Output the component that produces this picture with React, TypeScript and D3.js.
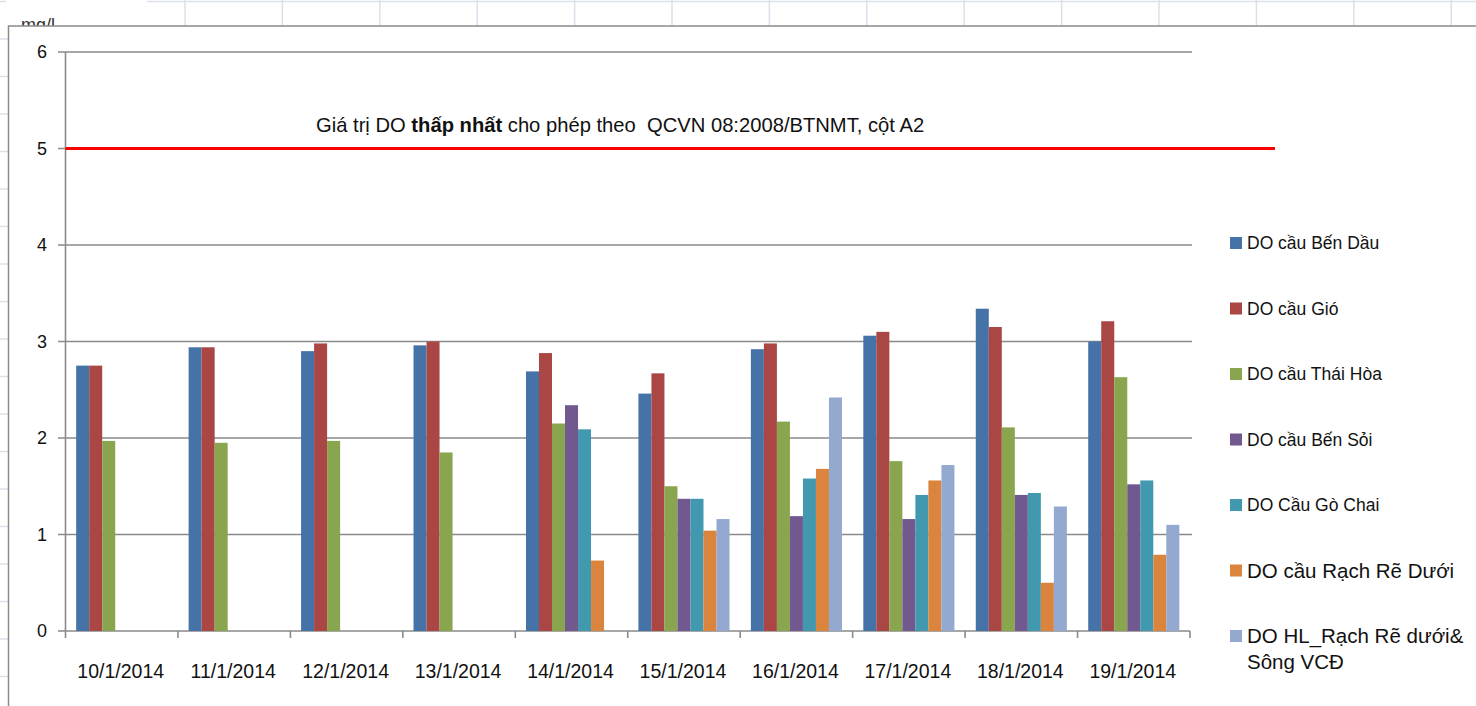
import * as d3 from "d3";

const dates = ["10/1/2014", "11/1/2014", "12/1/2014", "13/1/2014", "14/1/2014", "15/1/2014", "16/1/2014", "17/1/2014", "18/1/2014", "19/1/2014"];

const benDau = [2.75, 2.94, 2.9, 2.96, 2.69, 2.46, 2.92, 3.06, 3.34, 3.0];
const gio = [2.75, 2.94, 2.98, 3.0, 2.88, 2.67, 2.98, 3.1, 3.15, 3.21];
const thaiHoa = [1.97, 1.95, 1.97, 1.85, 2.15, 1.5, 2.17, 1.76, 2.11, 2.63];
const benSoi = [null, null, null, null, 2.34, 1.37, 1.19, 1.16, 1.41, 1.52];
const goChai = [null, null, null, null, 2.09, 1.37, 1.58, 1.41, 1.43, 1.56];
const rachReDuoi = [null, null, null, null, 0.73, 1.04, 1.68, 1.56, 0.5, 0.79];
const hlRachRe = [null, null, null, null, null, 1.16, 2.42, 1.72, 1.29, 1.1];

const seriesNames = [
  "DO cầu Bến Dầu",
  "DO cầu Gió",
  "DO cầu Thái Hòa",
  "DO cầu Bến Sỏi",
  "DO Cầu Gò Chai",
  "DO cầu Rạch Rẽ Dưới",
  "DO HL_Rạch Rẽ dưới&|Sông VCĐ",
];
const seriesValues = [benDau, gio, thaiHoa, benSoi, goChai, rachReDuoi, hlRachRe];
const colors = ["#4572A7", "#AA4643", "#89A54E", "#71588F", "#4198AF", "#DB843D", "#93A9CF"];

const yTicks = [0, 1, 2, 3, 4, 5, 6];
const limitValue = 5;

const W = 1476;
const H = 706;
const FONT = "'Liberation Sans', Arial, sans-serif";

export default function App() {
  const x = d3.scaleBand<string>().domain(dates).range([65.5, 1190]).paddingInner(0).paddingOuter(0);
  const xs = d3.scaleBand<number>().domain(d3.range(seriesNames.length)).range([0, x.bandwidth()]).paddingInner(0).paddingOuter(0.82);
  const y = d3.scaleLinear().domain([0, 6]).range([631, 52]);

  const sheetCols = d3.range(185, W, 97.4);
  const sheetRows = d3.range(39, H, 37.5);
  const grid = "#dbe1ec";
  const axisC = "#8a8a8a";

  return (
    <svg width={W} height={H} style={{ position: "absolute", left: 0, top: 0, background: "#fff" }} fontFamily={FONT}>
      {/* spreadsheet behind the chart */}
      <line x1={147} x2={W} y1={1.5} y2={1.5} stroke={grid} strokeWidth={1.5} />
      <line x1={0} x2={6} y1={1.5} y2={1.5} stroke={grid} strokeWidth={1.5} />
      {sheetCols.map((c) => (
        <line key={"c" + c} x1={c} x2={c} y1={0} y2={26} stroke={grid} strokeWidth={1.5} />
      ))}
      {sheetRows.map((r) => (
        <line key={"r" + r} x1={0} x2={8} y1={r} y2={r} stroke={grid} strokeWidth={1.5} />
      ))}
      <text x={21} y={31} fontSize={18} fill="#333">mg/l</text>

      {/* chart area */}
      <rect x={8.5} y={26} width={W} height={H} fill="#fff" stroke={axisC} strokeWidth={1.5} />

      {/* gridlines + y axis */}
      {yTicks.map((t) => (
        <g key={"y" + t}>
          <line x1={58} x2={t === 0 ? 1190 : 1192} y1={y(t)} y2={y(t)} stroke={axisC} strokeWidth={1.6} />
          <text x={47} y={y(t)} dy="0.35em" textAnchor="end" fontSize={18} fill="#111">{t}</text>
        </g>
      ))}
      <line x1={65.5} x2={65.5} y1={y(6)} y2={638} stroke={axisC} strokeWidth={1.6} />
      {dates.map((d) => (
        <line key={"t" + d} x1={x(d)! + x.bandwidth()} x2={x(d)! + x.bandwidth()} y1={631} y2={638} stroke={axisC} strokeWidth={1.6} />
      ))}

      {/* bars */}
      {seriesValues.map((vals, si) => (
        <g key={"s" + si} fill={colors[si]}>
          {vals.map((v, di) =>
            v == null ? null : (
              <rect key={di} x={x(dates[di])! + xs(si)!} y={y(v)} width={xs.bandwidth()} height={y(0) - y(v)} />
            )
          )}
        </g>
      ))}

      {/* x labels */}
      {dates.map((d) => (
        <text key={"l" + d} x={x(d)! + x.bandwidth() / 2 - 1} y={678} textAnchor="middle" fontSize={19.5} fill="#111">{d}</text>
      ))}

      {/* limit line */}
      <line x1={65.5} x2={1275} y1={y(limitValue)} y2={y(limitValue)} stroke="#ff0000" strokeWidth={3} />
      <text x={316} y={132} fontSize={20.2} fill="#111" style={{ whiteSpace: "pre" }}>
        Giá trị DO <tspan fontWeight="bold">thấp nhất</tspan> cho phép theo  QCVN 08:2008/BTNMT, cột A2
      </text>

      {/* legend */}
      {seriesNames.map((n, i) => {
        const cy = 243 + i * 65.5;
        const lines = n.split("|");
        const fs = i >= 5 ? 20.5 : 17.5;
        return (
          <g key={"lg" + i}>
            <rect x={1230} y={cy - 6} width={12} height={12} fill={colors[i]} />
            {lines.map((ln, k) => (
              <text key={k} x={1247} y={cy + k * 26} dy="0.36em" fontSize={fs} fill="#111" style={{ whiteSpace: "pre" }}>{ln}</text>
            ))}
          </g>
        );
      })}
    </svg>
  );
}
